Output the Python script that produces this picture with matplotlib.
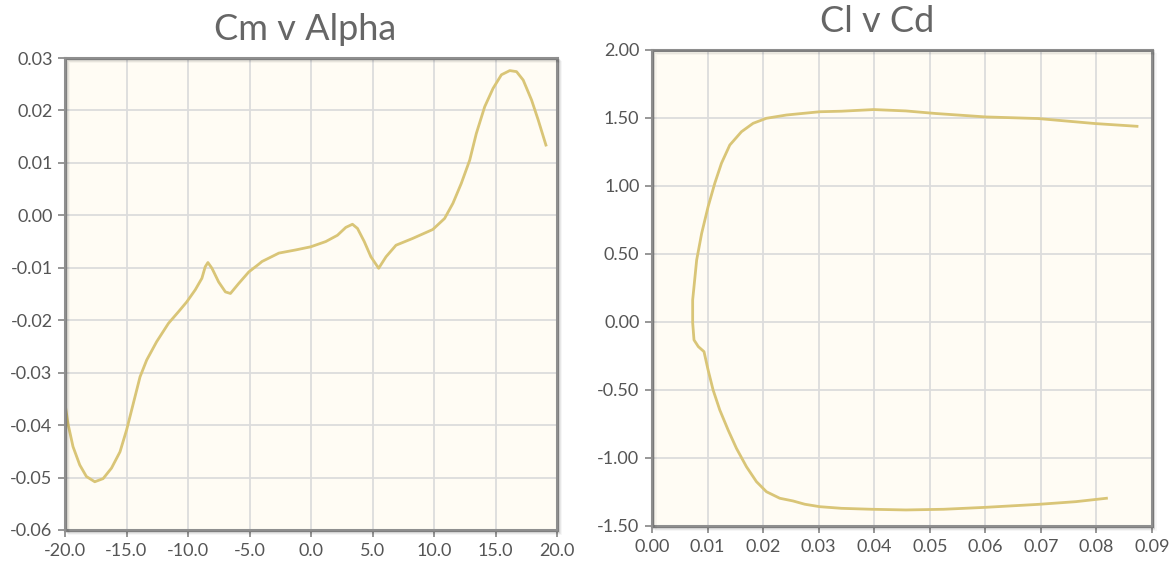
import matplotlib
matplotlib.use("Agg")
import matplotlib.pyplot as plt

# Cm v Alpha
alpha = [-19.98, -19.76, -19.35, -18.80, -18.26, -17.58, -16.90, -16.22, -15.53, -14.99,
         -14.45, -13.90, -13.36, -12.55, -11.59, -10.78, -10.10, -9.41, -8.87, -8.60,
         -8.38, -8.05, -7.51, -6.96, -6.55, -5.88, -5.06, -4.24, -3.98, -2.61, -1.25,
         -0.02, 1.20, 2.15, 2.83, 3.37, 3.78, 4.33, 4.87, 5.50, 6.10, 6.91, 8.27, 9.90,
         10.86, 11.54, 12.22, 12.90, 13.44, 14.12, 14.80, 15.48, 16.16, 16.71, 17.25,
         17.93, 18.47, 19.10]
cm = [-0.0362, -0.0397, -0.0441, -0.0476, -0.0498, -0.0508, -0.0502, -0.0482, -0.0451,
      -0.0409, -0.0359, -0.0308, -0.0276, -0.0241, -0.0206, -0.0184, -0.0165, -0.0142,
      -0.0120, -0.0098, -0.0090, -0.0101, -0.0127, -0.0146, -0.0149, -0.0130, -0.0108,
      -0.0093, -0.0088, -0.0072, -0.0066, -0.0060, -0.0050, -0.0038, -0.0023, -0.0017,
      -0.0025, -0.0050, -0.0079, -0.0101, -0.0079, -0.0057, -0.0044, -0.0027, -0.0006,
      0.0023, 0.0061, 0.0105, 0.0156, 0.0207, 0.0242, 0.0268, 0.0276, 0.0274, 0.0258,
      0.0220, 0.0182, 0.0134]

# Cl v Cd, from lower branch end round to upper branch end
cd = [0.0818, 0.0763, 0.0695, 0.0599, 0.0525, 0.0457, 0.0395, 0.0341, 0.0302, 0.0275,
      0.0254, 0.0230, 0.0206, 0.0188, 0.0170, 0.0152, 0.0137, 0.0122, 0.0110, 0.0101,
      0.00936, 0.00834, 0.00756, 0.00732, 0.00732, 0.00732, 0.00756, 0.00804, 0.00894,
      0.0101, 0.0113, 0.0125, 0.0140, 0.0161, 0.0182, 0.0206, 0.0242, 0.0302, 0.0341,
      0.0399, 0.0457, 0.0511, 0.0600, 0.0695, 0.0798, 0.0873]
cl = [-1.296, -1.321, -1.341, -1.363, -1.377, -1.382, -1.377, -1.370, -1.358, -1.340,
      -1.316, -1.296, -1.248, -1.174, -1.064, -0.929, -0.794, -0.647, -0.500, -0.353,
      -0.218, -0.181, -0.132, -0.005, 0.064, 0.162, 0.260, 0.456, 0.652,
      0.848, 1.020, 1.167, 1.301, 1.399, 1.461, 1.498, 1.522, 1.546, 1.550,
      1.562, 1.552, 1.533, 1.508, 1.496, 1.459, 1.439]

cm_ticks = [-0.06, -0.05, -0.04, -0.03, -0.02, -0.01, 0.00, 0.01, 0.02, 0.03]
alpha_ticks = [-20, -15, -10, -5, 0, 5, 10, 15, 20]
cl_ticks = [-1.5, -1.0, -0.5, 0.0, 0.5, 1.0, 1.5, 2.0]
cd_ticks = [0.00, 0.01, 0.02, 0.03, 0.04, 0.05, 0.06, 0.07, 0.08, 0.09]

plt.rcParams['font.family'] = ['Lato', 'DejaVu Sans']

W, H = 1175, 565
fig = plt.figure(figsize=(W / 100, H / 100), dpi=100)

line_col = '#d9c577'
bg = '#fffcf4'


def setup(ax, xt, yt, xfmt, yfmt):
    ax.set_facecolor(bg)
    ax.set_xticks(xt)
    ax.set_yticks(yt)
    ax.set_xticklabels([xfmt.format(v) for v in xt])
    ax.set_yticklabels([yfmt.format(v) for v in yt])
    ax.set_xlim(xt[0], xt[-1])
    ax.set_ylim(yt[0], yt[-1])
    ax.grid(True, color='#dcdcdc', lw=1.3)
    ax.set_axisbelow(True)
    for s in ax.spines.values():
        s.set_color('#8f8f8f')
        s.set_linewidth(2.2)
    ax.tick_params(colors='#8f8f8f', labelcolor='#555555', labelsize=13,
                   length=5, width=1.3, pad=4)


def add_shadow(ax):
    # soft drop shadow behind the frame
    b = ax.get_position()
    for i, a in enumerate([0.10, 0.06, 0.03]):
        d = (i + 1.5) / W
        dy = (i + 1.5) / H
        fig.patches.append(plt.Rectangle((b.x0 + d, b.y0 - dy), b.width, b.height,
                                         transform=fig.transFigure, facecolor='none',
                                         edgecolor='black', alpha=a, lw=1.5, zorder=0))


ax1 = fig.add_axes([65 / W, 1 - 530 / H, (557 - 65) / W, (530 - 58) / H])
setup(ax1, alpha_ticks, cm_ticks, '{:.1f}', '{:.2f}')
ax1.plot(alpha, cm, color=line_col, lw=2, solid_joinstyle='round')
add_shadow(ax1)
fig.text(305 / W, 1 - 30 / H, 'Cm v Alpha', ha='center', va='center',
         fontsize=26, color='#666666')

ax2 = fig.add_axes([652 / W, 1 - 526 / H, (1152 - 652) / W, (526 - 50) / H])
setup(ax2, cd_ticks, cl_ticks, '{:.2f}', '{:.2f}')
ax2.plot(cd, cl, color=line_col, lw=2, solid_joinstyle='round')
add_shadow(ax2)
fig.text(877 / W, 1 - 22 / H, 'Cl v Cd', ha='center', va='center',
         fontsize=26, color='#666666')

fig.savefig('out.png', dpi=100, facecolor='white')
